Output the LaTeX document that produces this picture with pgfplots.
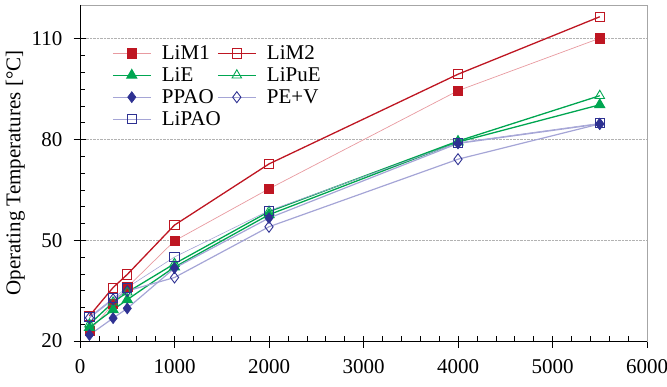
\documentclass[border=0pt]{standalone}
\usepackage{fontspec}
\setmainfont{Liberation Serif}
\usepackage{pgfplots}
\pgfplotsset{compat=1.18}
\definecolor{dred}{HTML}{BE1622}
\definecolor{lred}{HTML}{E89AA0}
\definecolor{dgreen}{HTML}{00A651}
\definecolor{dblue}{HTML}{2E3192}
\definecolor{lblue}{HTML}{A5A5D6}
\begin{document}
\begin{tikzpicture}
\begin{axis}[
  scale only axis,
  width=567pt, height=336pt,
  xmin=0, xmax=6000, ymin=20, ymax=120,
  xtick={0,1000,...,6000},
  ytick={20,50,80,110},
  minor x tick num=4,
  minor y tick num=5,
  xtick pos=left, ytick pos=left,
  tick align=inside,
  major tick length=12pt,
  minor tick length=5pt,
  major x tick style={yshift=-6.5pt},
  major y tick style={xshift=-6.5pt},
  tick style={black, line width=0.6pt},
  scaled x ticks=false,
  /pgf/number format/.cd, 1000 sep={}, assume math mode=true, /pgfplots/.cd,
  ticklabel style={font=\fontsize{21}{24}\selectfont},
  xticklabel style={yshift=-15pt},
  yticklabel style={xshift=-14pt},
  ylabel={Operating Temperatures [°C]},
  ylabel style={font=\fontsize{21}{24}\selectfont, at={(axis description cs:-0.114,0.5)}, anchor=center},
  axis line style={gray!70, line width=0.6pt},
  ymajorgrids,
  grid style={gray!60, densely dotted, line width=0.6pt},
  clip=false,
  legend cell align=left,
  legend style={draw=none, fill=none, at={(axis description cs:0.051,0.89)}, anchor=north west,
    font=\fontsize{21}{22}\selectfont, legend columns=2,
    nodes={inner sep=1.5pt},
    column sep=-5pt, row sep=3.5pt, /tikz/every odd column/.append style={column sep=9pt}},
  legend image code/.code={\draw[#1] (0pt,0pt) -- (38pt,0pt); \draw[#1] plot coordinates {(19pt,0pt)};},
]
\addplot[lred, line width=0.7pt, mark=square*, mark size=4.6pt, mark options={solid, fill=dred, draw=dred}]
  coordinates {(100,23) (350,31) (500,36) (1000,49.8) (2000,65.3) (4000,94.5) (5500,110.1)};
\addlegendentry{LiM1}
\addplot[dred, line width=1.3pt, mark=square, mark size=4.6pt, mark options={solid, draw=dred, line width=0.9pt, fill=none}]
  coordinates {(100,27.5) (350,35.9) (500,39.8) (1000,54.5) (2000,72.7) (4000,99.4) (5500,116.5)};
\addlegendentry{LiM2}
\addplot[dgreen, line width=1.3pt, mark=triangle*, mark size=5.5pt, mark options={solid, fill=dgreen, draw=dgreen}]
  coordinates {(100,24) (350,29.3) (500,32.3) (1000,42) (2000,57.6) (4000,79.2) (5500,90.3)};
\addlegendentry{LiE}
\addplot[dgreen, line width=1.3pt, mark=triangle, mark size=5.5pt, mark options={solid, draw=dgreen, line width=0.9pt, fill=white}]
  coordinates {(100,25) (350,31.5) (500,34.5) (1000,43) (2000,58.5) (4000,79.5) (5500,93)};
\addlegendentry{LiPuE}
\addplot[lblue, line width=1.2pt, mark=diamond*, mark size=5.5pt, mark options={solid, fill=dblue, draw=dblue, line width=0.6pt}]
  coordinates {(100,21.8) (350,26.8) (500,29.7) (1000,41.7) (2000,56.6) (4000,78.8) (5500,84.6)};
\addlegendentry{PPAO}
\addplot[lblue, line width=1.2pt, mark=diamond, mark size=5.5pt, mark options={solid, draw=dblue, line width=0.9pt, fill=white}]
  coordinates {(100,26.9) (350,32.4) (500,34.9) (1000,38.9) (2000,54) (4000,74.1) (5500,84.6)};
\addlegendentry{PE+V}
\addplot[lblue, line width=0.6pt, mark=square, mark size=4.6pt, mark options={solid, draw=dblue, line width=0.9pt, fill=none}]
  coordinates {(100,27.2) (350,32.7) (500,35.9) (1000,45) (2000,58.8) (4000,79) (5500,84.8)};
\addlegendentry{LiPAO}
\draw[black, line width=0.8pt] (rel axis cs:0,1) -- (rel axis cs:0,0) -- (rel axis cs:1,0);
\end{axis}
\pgfresetboundingbox
\path[use as bounding box] ([xshift=-80pt,yshift=-45pt]current axis.south west) rectangle ([xshift=20pt,yshift=5pt]current axis.north east);
\end{tikzpicture}
\end{document}
